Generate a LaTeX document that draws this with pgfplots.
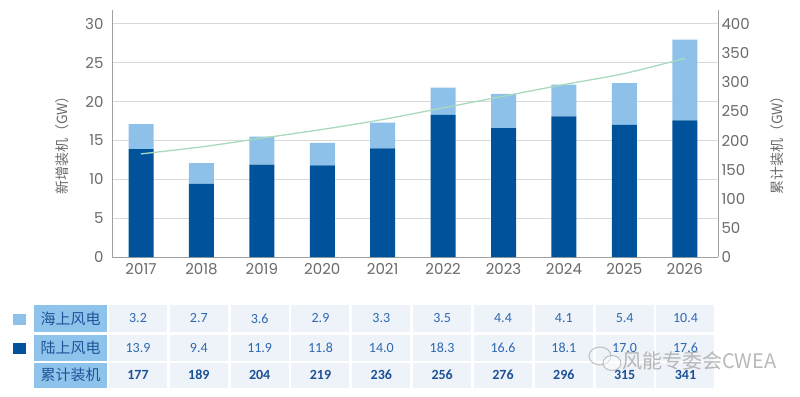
\documentclass[border=0pt]{standalone}
\usepackage{pgfplots}
\pgfplotsset{compat=1.18}
\usepackage{fontspec}
\setmainfont{Poppins}
\newfontfamily\cjk{Noto Sans CJK SC}
\newfontfamily\tabfont{Carlito}
\definecolor{dark}{HTML}{00539B}
\definecolor{light}{HTML}{8DC1EA}
\definecolor{grn}{HTML}{A9DABD}
\definecolor{lbl}{HTML}{8EC4EC}
\definecolor{cell}{HTML}{EEF3FA}
\definecolor{txt}{HTML}{2D68B0}
\definecolor{boldtxt}{HTML}{1B5196}
\definecolor{lbltxt}{HTML}{1F5597}
\definecolor{tick}{HTML}{6A6A6A}
\definecolor{axl}{HTML}{A0A0A0}
\begin{document}
\begin{tikzpicture}
\path (0bp,0bp) rectangle (800bp,-397bp);
\pgfplotsset{
  common/.style={
    at={(112bp,-257bp)}, anchor=south west, scale only axis,
    width=606bp, height=247bp,
    xmin=-0.48, xmax=9.55,
    major tick length=0pt,
    axis line style={axl, line width=0.9bp},
    tick label style={font=\fontsize{15bp}{15bp}\selectfont, text=tick},
    /pgf/number format/assume math mode=true,
  }
}
\begin{axis}[common,
  ymin=0, ymax=31.8,
  ybar stacked, bar width=25bp,
  axis lines*=left,
  xtick={0,...,9},
  xticklabels={2017,2018,2019,2020,2021,2022,2023,2024,2025,2026},
  ytick={0,5,...,30},
  ymajorgrids, grid style={black!15, line width=1bp},
  yticklabel style={xshift=-5bp},
  xticklabel style={yshift=-3bp},
]
\addplot[fill=dark, draw=none] coordinates {(0,13.9)(1,9.4)(2,11.9)(3,11.8)(4,14.0)(5,18.3)(6,16.6)(7,18.1)(8,17.0)(9,17.6)};
\addplot[fill=light, draw=none] coordinates {(0,3.2)(1,2.7)(2,3.6)(3,2.9)(4,3.3)(5,3.5)(6,4.4)(7,4.1)(8,5.4)(9,10.4)};
\end{axis}
\begin{axis}[common,
  ymin=0, ymax=424,
  axis y line*=right, axis x line=none,
  ytick={0,50,...,400},
  yticklabel style={xshift=0bp},
]
\addplot[grn, line width=1.3bp, smooth, mark=none] coordinates {(0,177)(1,189)(2,204)(3,219)(4,236)(5,256)(6,276)(7,296)(8,315)(9,341)};
\end{axis}
% axis titles
\node[rotate=90, text=tick, font=\cjk\fontsize{14bp}{14bp}\selectfont] at (62bp,-142bp) {新增装机（GW）};
\node[rotate=90, text=tick, font=\cjk\fontsize{14bp}{14bp}\selectfont] at (777bp,-142bp) {累计装机（GW）};
% table
\tikzset{cellA/.style={fill=cell, minimum width=58bp, text=txt, inner sep=0pt, font=\tabfont\fontsize{14bp}{14bp}\selectfont},
         lab/.style={fill=lbl, minimum width=73bp, text=lbltxt, inner sep=0pt, font=\cjk\fontsize{15bp}{15bp}\selectfont}}
\node[lab, minimum height=27bp] at (70.5bp,-318.5bp) {海上风电};
\node[lab, minimum height=26bp] at (70.5bp,-348bp) {陆上风电};
\node[lab, minimum height=25bp] at (70.5bp,-375bp) {累计装机};
\fill[light] (13bp,-313.5bp) rectangle (26bp,-324.5bp);
\fill[dark] (13bp,-343bp) rectangle (26bp,-354bp);
\foreach \v [count=\i from 0] in {3.2,2.7,3.6,2.9,3.3,3.5,4.4,4.1,5.4,10.4}
  \node[cellA, minimum height=27bp] at ({138bp+60.83bp*\i},-318.5bp) {\v};
\foreach \v [count=\i from 0] in {13.9,9.4,11.9,11.8,14.0,18.3,16.6,18.1,17.0,17.6}
  \node[cellA, minimum height=26bp] at ({138bp+60.83bp*\i},-348bp) {\v};
\foreach \v [count=\i from 0] in {177,189,204,219,236,256,276,296,315,341}
  \node[cellA, minimum height=25bp, text=boldtxt, font=\tabfont\bfseries\fontsize{14bp}{14bp}\selectfont] at ({138bp+60.83bp*\i},-375bp) {\v};
% watermark
\draw[gray!60, line width=1bp, opacity=0.8] (600bp,-356bp) ellipse (11bp and 9bp);
\draw[gray!60, line width=1bp, opacity=0.8, fill=white, fill opacity=0.5] (612bp,-363bp) ellipse (9bp and 7.5bp);
\node[text=gray!70, opacity=0.8, font=\cjk\fontsize{20bp}{20bp}\selectfont, anchor=west, inner sep=0pt] at (622bp,-361bp) {风能专委会CWEA};
\end{tikzpicture}
\end{document}
